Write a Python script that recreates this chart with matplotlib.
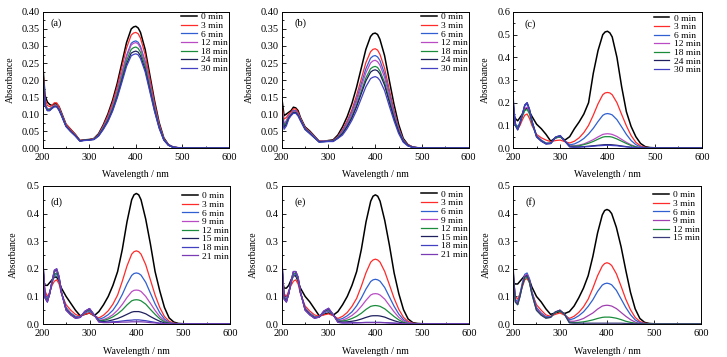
import matplotlib
matplotlib.use("Agg")
import matplotlib.pyplot as plt
from matplotlib.ticker import MultipleLocator, FormatStrFormatter

plt.rcParams["font.family"] = ["Liberation Serif", "DejaVu Serif"]

# wavelength grid (nm) the absorbance values were read at
wavelength = [200, 205, 210, 215, 220, 225, 230, 235, 240, 250, 260, 270, 280, 290,
              300, 310, 320, 330, 340, 350, 360, 370, 380, 390, 395, 400, 405, 410,
              420, 430, 440, 450, 460, 470, 480, 490, 500, 600]

# (a)
a_labels = ["0 min", "3 min", "6 min", "12 min", "18 min", "24 min", "30 min"]
a_0 = [0.25, 0.155, 0.135, 0.128, 0.125, 0.13, 0.13, 0.122, 0.105, 0.07, 0.055, 0.04, 0.022, 0.024, 0.025, 0.028, 0.042,
       0.068, 0.10, 0.14, 0.19, 0.25, 0.31, 0.35, 0.356, 0.358, 0.353, 0.34, 0.29, 0.215, 0.14, 0.075, 0.03, 0.01, 0.003, 0.001, 0.0, 0.0]
a_3 = [0.24, 0.145, 0.125, 0.122, 0.125, 0.133, 0.133, 0.122, 0.103, 0.07, 0.055, 0.04, 0.022, 0.024, 0.025, 0.027, 0.040,
       0.065, 0.095, 0.133, 0.18, 0.237, 0.294, 0.332, 0.338, 0.34, 0.336, 0.323, 0.275, 0.204, 0.133, 0.071, 0.028, 0.009, 0.003, 0.001, 0.0, 0.0]
a_6 = [0.23, 0.13, 0.115, 0.115, 0.12, 0.125, 0.125, 0.115, 0.1, 0.066, 0.05, 0.037, 0.021, 0.023, 0.024, 0.026, 0.038,
       0.061, 0.088, 0.123, 0.167, 0.22, 0.272, 0.308, 0.313, 0.315, 0.311, 0.299, 0.255, 0.189, 0.123, 0.066, 0.026, 0.009, 0.003, 0.001, 0.0, 0.0]
a_12 = [0.23, 0.13, 0.115, 0.115, 0.12, 0.125, 0.125, 0.115, 0.1, 0.066, 0.05, 0.037, 0.021, 0.023, 0.024, 0.026, 0.037,
        0.06, 0.087, 0.121, 0.165, 0.216, 0.268, 0.303, 0.308, 0.31, 0.306, 0.294, 0.251, 0.186, 0.121, 0.065, 0.026, 0.009, 0.003, 0.001, 0.0, 0.0]
a_18 = [0.23, 0.13, 0.113, 0.113, 0.118, 0.123, 0.123, 0.113, 0.098, 0.065, 0.05, 0.037, 0.021, 0.023, 0.024, 0.026, 0.037,
        0.058, 0.083, 0.116, 0.158, 0.207, 0.257, 0.29, 0.295, 0.297, 0.293, 0.282, 0.241, 0.178, 0.116, 0.062, 0.025, 0.008, 0.002, 0.001, 0.0, 0.0]
a_24 = [0.23, 0.125, 0.11, 0.11, 0.117, 0.122, 0.122, 0.112, 0.097, 0.064, 0.049, 0.036, 0.021, 0.023, 0.024, 0.025, 0.036,
        0.056, 0.08, 0.111, 0.151, 0.199, 0.247, 0.279, 0.283, 0.285, 0.282, 0.271, 0.231, 0.171, 0.111, 0.06, 0.024, 0.008, 0.002, 0.001, 0.0, 0.0]
a_30 = [0.23, 0.125, 0.11, 0.11, 0.116, 0.121, 0.121, 0.111, 0.096, 0.063, 0.048, 0.035, 0.02, 0.022, 0.023, 0.025, 0.035,
        0.054, 0.077, 0.108, 0.147, 0.193, 0.24, 0.271, 0.275, 0.277, 0.274, 0.263, 0.224, 0.166, 0.108, 0.058, 0.023, 0.008, 0.002, 0.001, 0.0, 0.0]

# (b)
b_labels = ["0 min", "3 min", "6 min", "12 min", "18 min", "24 min", "30 min"]
b_0 = [0.15, 0.095, 0.1, 0.105, 0.11, 0.12, 0.118, 0.11, 0.09, 0.062, 0.05, 0.035, 0.02, 0.02, 0.022, 0.024, 0.038,
       0.062, 0.092, 0.13, 0.178, 0.234, 0.29, 0.328, 0.336, 0.338, 0.334, 0.32, 0.272, 0.2, 0.13, 0.07, 0.028, 0.01, 0.003, 0.001, 0.0, 0.0]
b_3 = [0.13, 0.085, 0.09, 0.1, 0.105, 0.115, 0.115, 0.105, 0.088, 0.06, 0.048, 0.034, 0.02, 0.02, 0.022, 0.022, 0.034,
       0.054, 0.08, 0.112, 0.154, 0.202, 0.251, 0.283, 0.29, 0.292, 0.288, 0.276, 0.235, 0.173, 0.112, 0.06, 0.024, 0.009, 0.003, 0.001, 0.0, 0.0]
b_6 = [0.12, 0.07, 0.08, 0.095, 0.1, 0.11, 0.11, 0.1, 0.085, 0.058, 0.046, 0.033, 0.019, 0.02, 0.021, 0.021, 0.032,
       0.05, 0.074, 0.105, 0.143, 0.188, 0.233, 0.264, 0.27, 0.272, 0.268, 0.258, 0.219, 0.161, 0.105, 0.056, 0.023, 0.008, 0.002, 0.001, 0.0, 0.0]
b_12 = [0.12, 0.07, 0.08, 0.095, 0.1, 0.108, 0.108, 0.1, 0.085, 0.057, 0.045, 0.032, 0.019, 0.02, 0.021, 0.021, 0.031,
        0.047, 0.07, 0.099, 0.136, 0.179, 0.221, 0.25, 0.256, 0.258, 0.254, 0.244, 0.208, 0.153, 0.099, 0.053, 0.021, 0.008, 0.002, 0.001, 0.0, 0.0]
b_18 = [0.11, 0.065, 0.075, 0.09, 0.098, 0.105, 0.105, 0.097, 0.083, 0.056, 0.044, 0.031, 0.018, 0.019, 0.02, 0.02, 0.03,
        0.044, 0.065, 0.092, 0.126, 0.166, 0.206, 0.233, 0.238, 0.24, 0.237, 0.227, 0.193, 0.142, 0.092, 0.05, 0.02, 0.007, 0.002, 0.001, 0.0, 0.0]
b_24 = [0.11, 0.06, 0.07, 0.088, 0.097, 0.104, 0.104, 0.096, 0.082, 0.055, 0.043, 0.03, 0.018, 0.019, 0.02, 0.02, 0.029,
        0.042, 0.063, 0.088, 0.121, 0.159, 0.197, 0.223, 0.228, 0.23, 0.227, 0.218, 0.185, 0.136, 0.088, 0.048, 0.019, 0.007, 0.002, 0.001, 0.0, 0.0]
b_30 = [0.1, 0.055, 0.065, 0.085, 0.095, 0.102, 0.102, 0.094, 0.08, 0.054, 0.042, 0.03, 0.017, 0.018, 0.019, 0.019, 0.028,
        0.038, 0.057, 0.081, 0.11, 0.145, 0.18, 0.204, 0.208, 0.21, 0.207, 0.199, 0.169, 0.124, 0.081, 0.043, 0.017, 0.006, 0.002, 0.001, 0.0, 0.0]

# (c)
c_labels = ["0 min", "3 min", "6 min", "12 min", "18 min", "24 min", "30 min"]
c_0 = [0.15, 0.13, 0.12, 0.135, 0.15, 0.17, 0.178, 0.16, 0.14, 0.105, 0.085, 0.06, 0.03, 0.045, 0.05, 0.035, 0.05,
       0.085, 0.115, 0.15, 0.2, 0.33, 0.43, 0.5, 0.512, 0.515, 0.508, 0.49, 0.40, 0.27, 0.16, 0.095, 0.05, 0.02, 0.006, 0.002, 0.001, 0.0]
c_3 = [0.16, 0.1, 0.085, 0.1, 0.125, 0.145, 0.15, 0.13, 0.1, 0.06, 0.045, 0.035, 0.028, 0.033, 0.035, 0.028, 0.022,
       0.03, 0.045, 0.068, 0.1, 0.145, 0.195, 0.235, 0.243, 0.245, 0.243, 0.235, 0.2, 0.148, 0.098, 0.055, 0.025, 0.009, 0.003, 0.001, 0.0, 0.0]
c_6 = [0.2, 0.11, 0.09, 0.115, 0.15, 0.185, 0.195, 0.17, 0.12, 0.055, 0.035, 0.022, 0.022, 0.045, 0.05, 0.03, 0.014,
       0.018, 0.028, 0.042, 0.062, 0.087, 0.117, 0.144, 0.15, 0.152, 0.15, 0.146, 0.125, 0.093, 0.06, 0.033, 0.015, 0.005, 0.002, 0.001, 0.0, 0.0]
c_12 = [0.2, 0.1, 0.085, 0.11, 0.145, 0.175, 0.18, 0.16, 0.115, 0.05, 0.032, 0.02, 0.022, 0.045, 0.052, 0.03, 0.01,
        0.01, 0.013, 0.018, 0.027, 0.037, 0.049, 0.06, 0.062, 0.063, 0.062, 0.06, 0.051, 0.038, 0.025, 0.014, 0.006, 0.002, 0.001, 0.0, 0.0, 0.0]
c_18 = [0.1, 0.1, 0.09, 0.11, 0.14, 0.165, 0.17, 0.15, 0.11, 0.05, 0.032, 0.02, 0.022, 0.045, 0.05, 0.03, 0.008,
        0.008, 0.01, 0.015, 0.021, 0.029, 0.039, 0.048, 0.05, 0.05, 0.05, 0.048, 0.04, 0.03, 0.02, 0.011, 0.005, 0.002, 0.001, 0.0, 0.0, 0.0]
c_24 = [0.22, 0.1, 0.08, 0.11, 0.15, 0.19, 0.2, 0.17, 0.12, 0.05, 0.03, 0.018, 0.02, 0.048, 0.055, 0.03, 0.006,
        0.004, 0.005, 0.006, 0.008, 0.01, 0.012, 0.014, 0.015, 0.015, 0.015, 0.014, 0.012, 0.009, 0.006, 0.003, 0.002, 0.001, 0.0, 0.0, 0.0, 0.0]
c_30 = [0.24, 0.1, 0.08, 0.11, 0.15, 0.19, 0.2, 0.17, 0.12, 0.048, 0.03, 0.018, 0.02, 0.048, 0.055, 0.03, 0.005,
        0.003, 0.004, 0.005, 0.006, 0.008, 0.01, 0.011, 0.012, 0.012, 0.012, 0.011, 0.01, 0.007, 0.005, 0.003, 0.001, 0.001, 0.0, 0.0, 0.0, 0.0]

# (d)
d_labels = ["0 min", "3 min", "6 min", "9 min", "12 min", "15 min", "18 min", "21 min"]
d_0 = [0.16, 0.14, 0.14, 0.15, 0.16, 0.17, 0.17, 0.155, 0.13, 0.1, 0.075, 0.05, 0.03, 0.035, 0.04, 0.03, 0.045,
       0.07, 0.1, 0.14, 0.19, 0.27, 0.37, 0.45, 0.468, 0.473, 0.468, 0.45, 0.38, 0.29, 0.19, 0.12, 0.06, 0.022, 0.007, 0.002, 0.001, 0.0]
d_3 = [0.2, 0.12, 0.1, 0.115, 0.14, 0.155, 0.16, 0.145, 0.11, 0.07, 0.05, 0.035, 0.028, 0.035, 0.04, 0.03, 0.022,
       0.032, 0.048, 0.072, 0.105, 0.155, 0.21, 0.253, 0.262, 0.265, 0.262, 0.253, 0.215, 0.16, 0.105, 0.06, 0.027, 0.01, 0.003, 0.001, 0.0, 0.0]
d_6 = [0.22, 0.11, 0.09, 0.115, 0.15, 0.175, 0.18, 0.16, 0.115, 0.06, 0.04, 0.028, 0.025, 0.04, 0.047, 0.032, 0.017,
       0.023, 0.034, 0.05, 0.075, 0.107, 0.145, 0.176, 0.183, 0.185, 0.183, 0.177, 0.151, 0.112, 0.073, 0.041, 0.018, 0.006, 0.002, 0.001, 0.0, 0.0]
d_9 = [0.22, 0.1, 0.085, 0.11, 0.15, 0.18, 0.185, 0.165, 0.115, 0.055, 0.037, 0.025, 0.024, 0.042, 0.05, 0.032, 0.013,
       0.016, 0.023, 0.034, 0.05, 0.071, 0.096, 0.117, 0.122, 0.123, 0.122, 0.118, 0.1, 0.075, 0.049, 0.027, 0.012, 0.004, 0.001, 0.001, 0.0, 0.0]
d_12 = [0.22, 0.1, 0.085, 0.11, 0.15, 0.18, 0.185, 0.165, 0.115, 0.054, 0.036, 0.024, 0.024, 0.043, 0.052, 0.032, 0.012,
        0.013, 0.018, 0.026, 0.037, 0.051, 0.069, 0.084, 0.087, 0.088, 0.087, 0.084, 0.072, 0.053, 0.035, 0.019, 0.008, 0.003, 0.001, 0.0, 0.0, 0.0]
d_15 = [0.24, 0.095, 0.08, 0.11, 0.155, 0.19, 0.195, 0.17, 0.115, 0.052, 0.034, 0.022, 0.024, 0.045, 0.055, 0.033, 0.01,
        0.009, 0.011, 0.015, 0.02, 0.027, 0.035, 0.043, 0.045, 0.045, 0.045, 0.043, 0.037, 0.027, 0.018, 0.01, 0.004, 0.002, 0.001, 0.0, 0.0, 0.0]
d_18 = [0.25, 0.095, 0.08, 0.11, 0.155, 0.195, 0.2, 0.172, 0.115, 0.05, 0.033, 0.021, 0.024, 0.046, 0.056, 0.033, 0.008,
        0.006, 0.007, 0.008, 0.009, 0.011, 0.013, 0.014, 0.015, 0.015, 0.015, 0.014, 0.012, 0.009, 0.006, 0.003, 0.002, 0.001, 0.0, 0.0, 0.0, 0.0]
d_21 = [0.25, 0.095, 0.08, 0.11, 0.155, 0.195, 0.2, 0.172, 0.115, 0.05, 0.033, 0.021, 0.024, 0.046, 0.056, 0.033, 0.007,
        0.005, 0.005, 0.006, 0.006, 0.007, 0.007, 0.008, 0.008, 0.008, 0.008, 0.008, 0.007, 0.005, 0.004, 0.002, 0.001, 0.001, 0.0, 0.0, 0.0, 0.0]

# (e)
e_labels = ["0 min", "3 min", "6 min", "9 min", "12 min", "15 min", "18 min", "21 min"]
e_0 = [0.17, 0.13, 0.13, 0.14, 0.16, 0.175, 0.175, 0.155, 0.13, 0.1, 0.08, 0.055, 0.03, 0.035, 0.04, 0.032, 0.045,
       0.07, 0.1, 0.14, 0.19, 0.27, 0.37, 0.445, 0.463, 0.468, 0.463, 0.445, 0.375, 0.285, 0.185, 0.11, 0.052, 0.018, 0.005, 0.002, 0.001, 0.0]
e_3 = [0.2, 0.11, 0.1, 0.12, 0.14, 0.155, 0.16, 0.145, 0.11, 0.065, 0.047, 0.033, 0.028, 0.033, 0.037, 0.03, 0.02,
       0.028, 0.042, 0.064, 0.093, 0.137, 0.186, 0.224, 0.232, 0.235, 0.232, 0.224, 0.19, 0.142, 0.093, 0.053, 0.024, 0.009, 0.003, 0.001, 0.0, 0.0]
e_6 = [0.22, 0.1, 0.09, 0.115, 0.15, 0.175, 0.18, 0.16, 0.115, 0.058, 0.04, 0.027, 0.025, 0.04, 0.047, 0.032, 0.015,
       0.02, 0.03, 0.044, 0.066, 0.094, 0.127, 0.154, 0.16, 0.162, 0.16, 0.155, 0.132, 0.098, 0.064, 0.036, 0.016, 0.005, 0.002, 0.001, 0.0, 0.0]
e_9 = [0.22, 0.1, 0.085, 0.11, 0.15, 0.18, 0.185, 0.163, 0.115, 0.055, 0.037, 0.025, 0.025, 0.043, 0.05, 0.033, 0.012,
       0.014, 0.021, 0.031, 0.045, 0.064, 0.086, 0.105, 0.109, 0.11, 0.109, 0.105, 0.09, 0.067, 0.044, 0.024, 0.011, 0.004, 0.001, 0.001, 0.0, 0.0]
e_12 = [0.22, 0.1, 0.085, 0.11, 0.15, 0.18, 0.185, 0.163, 0.115, 0.054, 0.036, 0.024, 0.025, 0.045, 0.052, 0.033, 0.01,
        0.011, 0.014, 0.02, 0.028, 0.039, 0.053, 0.064, 0.066, 0.067, 0.066, 0.064, 0.055, 0.041, 0.027, 0.015, 0.006, 0.002, 0.001, 0.0, 0.0, 0.0]
e_15 = [0.24, 0.095, 0.08, 0.11, 0.155, 0.19, 0.19, 0.168, 0.115, 0.052, 0.034, 0.022, 0.025, 0.046, 0.055, 0.034, 0.008,
        0.007, 0.008, 0.01, 0.013, 0.018, 0.024, 0.029, 0.03, 0.03, 0.03, 0.029, 0.025, 0.018, 0.012, 0.007, 0.003, 0.001, 0.0, 0.0, 0.0, 0.0]
e_18 = [0.25, 0.09, 0.08, 0.11, 0.155, 0.19, 0.19, 0.17, 0.115, 0.05, 0.033, 0.021, 0.025, 0.047, 0.057, 0.034, 0.006,
        0.004, 0.004, 0.005, 0.005, 0.005, 0.006, 0.006, 0.006, 0.006, 0.006, 0.006, 0.005, 0.004, 0.003, 0.002, 0.001, 0.0, 0.0, 0.0, 0.0, 0.0]
e_21 = [0.25, 0.09, 0.08, 0.11, 0.155, 0.19, 0.19, 0.17, 0.115, 0.05, 0.033, 0.021, 0.025, 0.047, 0.057, 0.034, 0.006,
        0.004, 0.004, 0.004, 0.004, 0.005, 0.005, 0.005, 0.005, 0.005, 0.005, 0.005, 0.005, 0.004, 0.003, 0.002, 0.001, 0.0, 0.0, 0.0, 0.0, 0.0]

# (f)
f_labels = ["0 min", "3 min", "6 min", "9 min", "12 min", "15 min"]
f_0 = [0.15, 0.145, 0.145, 0.155, 0.165, 0.175, 0.175, 0.16, 0.135, 0.1, 0.08, 0.055, 0.035, 0.04, 0.045, 0.038, 0.045,
       0.065, 0.095, 0.13, 0.175, 0.245, 0.33, 0.395, 0.411, 0.415, 0.411, 0.40, 0.35, 0.28, 0.195, 0.115, 0.055, 0.02, 0.006, 0.002, 0.001, 0.0]
f_3 = [0.18, 0.1, 0.09, 0.11, 0.135, 0.16, 0.165, 0.15, 0.115, 0.07, 0.05, 0.033, 0.028, 0.035, 0.04, 0.032, 0.02,
       0.028, 0.042, 0.062, 0.09, 0.13, 0.175, 0.21, 0.219, 0.222, 0.219, 0.212, 0.182, 0.137, 0.09, 0.052, 0.024, 0.009, 0.003, 0.001, 0.0, 0.0]
f_6 = [0.2, 0.09, 0.08, 0.11, 0.15, 0.18, 0.185, 0.165, 0.12, 0.06, 0.04, 0.027, 0.026, 0.042, 0.05, 0.035, 0.015,
       0.02, 0.03, 0.044, 0.064, 0.088, 0.118, 0.141, 0.146, 0.148, 0.146, 0.142, 0.122, 0.091, 0.06, 0.034, 0.015, 0.005, 0.002, 0.001, 0.0, 0.0]
f_9 = [0.2, 0.085, 0.075, 0.105, 0.145, 0.175, 0.18, 0.16, 0.115, 0.055, 0.037, 0.024, 0.025, 0.043, 0.05, 0.035, 0.01,
       0.01, 0.014, 0.02, 0.03, 0.04, 0.054, 0.065, 0.067, 0.068, 0.067, 0.065, 0.056, 0.042, 0.028, 0.016, 0.007, 0.002, 0.001, 0.0, 0.0, 0.0]
f_12 = [0.18, 0.08, 0.07, 0.1, 0.14, 0.165, 0.17, 0.15, 0.11, 0.05, 0.033, 0.022, 0.024, 0.042, 0.048, 0.034, 0.006,
        0.005, 0.006, 0.008, 0.011, 0.015, 0.02, 0.024, 0.025, 0.025, 0.025, 0.024, 0.021, 0.016, 0.01, 0.006, 0.003, 0.001, 0.0, 0.0, 0.0, 0.0]
f_15 = [0.22, 0.08, 0.07, 0.1, 0.14, 0.17, 0.175, 0.155, 0.11, 0.05, 0.032, 0.021, 0.024, 0.044, 0.05, 0.034, 0.004,
        0.003, 0.003, 0.003, 0.003, 0.003, 0.003, 0.003, 0.003, 0.003, 0.003, 0.003, 0.003, 0.003, 0.002, 0.002, 0.001, 0.001, 0.0, 0.0, 0.0, 0.0]

# line colours in legend order
colors_30 = ["#000000", "#ff2a2a", "#2f5fd0", "#b94cc4", "#1a8c3c", "#1f1f5e", "#4040c0"]
colors_21 = ["#000000", "#ff2a2a", "#2f5fd0", "#b94cc4", "#1a8c3c", "#1f1f5e", "#4040c0", "#7a3cb4"]
colors_15 = ["#000000", "#ff2a2a", "#2f5fd0", "#a040b0", "#1a8c3c", "#3a3a7a"]

panels = [
    # tag, curves, labels, colors, ymax, ystep, fmt, axes rect, ylabel x, tag x, tag y, legend y
    ("(a)", [a_0, a_3, a_6, a_12, a_18, a_24, a_30], a_labels, colors_30, 0.40, 0.05, "%.2f",
     [0.0587, 0.5854, 0.2563, 0.381], -0.149, 0.04, 0.915, 0.994),
    ("(b)", [b_0, b_3, b_6, b_12, b_18, b_24, b_30], b_labels, colors_30, 0.40, 0.05, "%.2f",
     [0.3875, 0.5854, 0.2572, 0.381], -0.148, 0.07, 0.915, 0.994),
    ("(c)", [c_0, c_3, c_6, c_12, c_18, c_24, c_30], c_labels, colors_30, 0.6, 0.1, "%.1f",
     [0.7056, 0.5854, 0.2600, 0.381], -0.12, 0.063, 0.91, 0.985),
    ("(d)", [d_0, d_3, d_6, d_9, d_12, d_15, d_18, d_21], d_labels, colors_21, 0.5, 0.1, "%.1f",
     [0.0587, 0.0924, 0.2577, 0.3866], -0.13, 0.04, 0.882, 0.958),
    ("(e)", [e_0, e_3, e_6, e_9, e_12, e_15, e_18, e_21], e_labels, colors_21, 0.5, 0.1, "%.1f",
     [0.3875, 0.0924, 0.2577, 0.3866], -0.126, 0.07, 0.88, 0.97),
    ("(f)", [f_0, f_3, f_6, f_9, f_12, f_15], f_labels, colors_15, 0.5, 0.1, "%.1f",
     [0.7056, 0.0924, 0.2586, 0.3866], -0.12, 0.067, 0.882, 0.965),
]

fig = plt.figure(figsize=(7.27, 3.57), dpi=100)

for tag, curves, labels, colors, ymax, ystep, fmt, rect, lab_x, tag_x, tag_y, leg_y in panels:
    ax = fig.add_axes(rect)
    for values, label, color in zip(curves, labels, colors):
        lw = 1.1 if label == "0 min" else 0.9
        ax.plot(wavelength, values, color=color, lw=lw, label=label)

    ax.set_xlim(200, 600)
    ax.set_ylim(0, ymax)
    ax.xaxis.set_major_locator(MultipleLocator(100))
    ax.xaxis.set_minor_locator(MultipleLocator(50))
    ax.yaxis.set_major_locator(MultipleLocator(ystep))
    ax.yaxis.set_minor_locator(MultipleLocator(ystep / 2))
    ax.yaxis.set_major_formatter(FormatStrFormatter(fmt))
    ax.tick_params(which="both", direction="in", labelsize=7.5, width=0.6)
    ax.tick_params(which="major", length=3)
    ax.tick_params(which="minor", length=1.5)
    ax.tick_params(axis="y", pad=2)
    for spine in ax.spines.values():
        spine.set_linewidth(0.7)

    ax.set_xlabel("Wavelength / nm", fontsize=7)
    ax.set_ylabel("Absorbance", fontsize=7)
    ax.xaxis.set_label_coords(0.5, -0.165)
    ax.yaxis.set_label_coords(lab_x, 0.5)

    ax.text(tag_x, tag_y, tag, transform=ax.transAxes, fontsize=7.5, ha="left", va="center")
    ax.legend(loc="upper left", bbox_to_anchor=(0.745, leg_y), frameon=False, fontsize=6.8,
              handlelength=1.65, handletextpad=0.45, labelspacing=0.0,
              borderpad=0, borderaxespad=0)

fig.savefig("out.png", dpi=100)
